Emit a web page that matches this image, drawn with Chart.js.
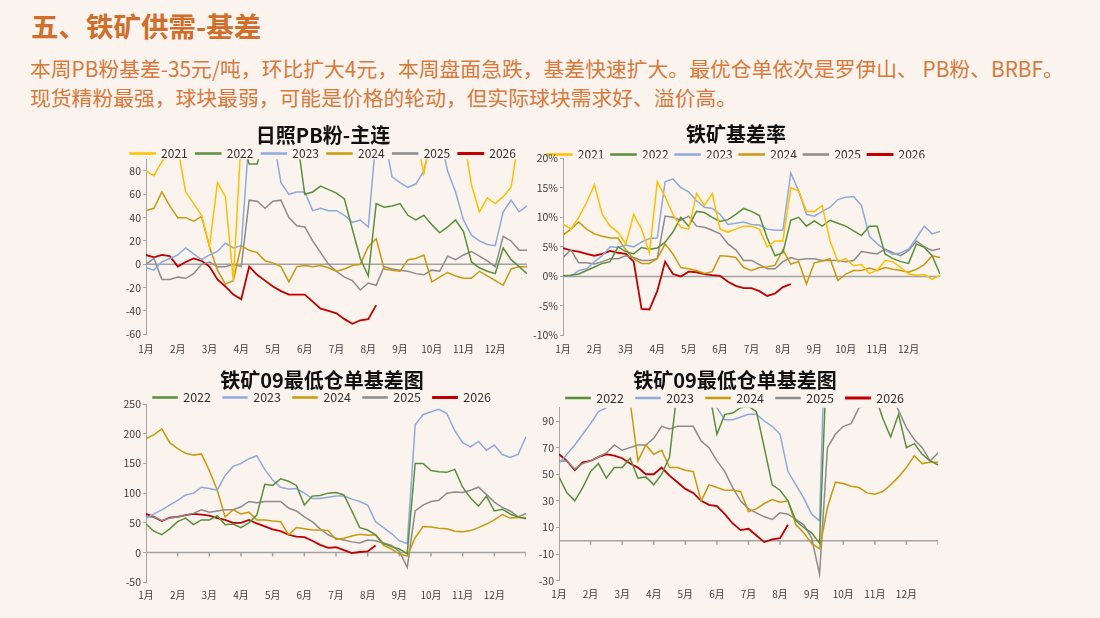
<!DOCTYPE html>
<html>
<head>
<meta charset="utf-8">
<script src="https://cdn.jsdelivr.net/npm/chart.js@4.4.1/dist/chart.umd.min.js"></script>
<style>
  html, body { margin:0; padding:0; }
  body { width:1100px; height:618px; background:#FAF3EE; position:relative; overflow:hidden;
         font-family:"Noto Sans CJK SC","Noto Sans",sans-serif; }
  #h1 { position:absolute; left:31px; top:8px; font-size:27.5px; line-height:34px; font-weight:700; color:#D06F2B; }
  #sub { position:absolute; left:30px; top:54px; font-size:20.8px; line-height:29px; color:#D9793A; white-space:nowrap; }
  canvas { position:absolute; }
</style>
</head>
<body>
<div id="h1">五、铁矿供需-基差</div>
<div id="sub">本周PB粉基差-35元/吨，环比扩大4元，本周盘面急跌，基差快速扩大。最优仓单依次是罗伊山、 PB粉、BRBF。<br>现货精粉最强，球块最弱，可能是价格的轮动，但实际球块需求好、溢价高。</div>
<canvas id="c1"></canvas>
<canvas id="c2"></canvas>
<canvas id="c3"></canvas>
<canvas id="c4"></canvas>
<script>
// ---------- shared axis data ----------
const monthLabels = ['1月','2月','3月','4月','5月','6月','7月','8月','9月','10月','11月','12月'];
const monthTickPos = [1,2,3,4,5,6,7,8,9,10,11,12];
const zeroTickPos = [2,3,4,5,6,7,8,9,10,11,12,13];
const xPos = [1,1.25,1.5,1.75,2,2.25,2.5,2.75,3,3.25,3.5,3.75,4,4.25,4.5,4.75,5,5.25,5.5,5.75,6,6.25,6.5,6.75,7,7.25,7.5,7.75,8,8.25,8.5,8.75,9,9.25,9.5,9.75,10,10.25,10.5,10.75,11,11.25,11.5,11.75,12,12.25,12.5,12.75,13];

const yearLabels = ['2021','2022','2023','2024','2025','2026'];
const yearColors = ['#FFC000','#5A8F3C','#8EAADC','#C99A0E','#8C8C8C','#C00000'];

// ---------- 日照PB粉-主连 (元/吨) ----------
const pbTicks = [-60,-40,-20,0,20,40,60,80];
const pb2021 = [80,76,88,95,100,62,52,42,15,70,58,-14,110, 110,110,110,110,110,110,110,110,110,110,110,110,110,110,110,110,110,110,110,110,110,110, 78, 110,110,110,110,110, 68,45,57,52,58,66,110,110];
const pb2022 = [110,110,110,110,110,110,110,110,110,110,110,110,110, 86,86, 110,110,110,110,110, 60,62,67,64,61,56,30,5,-10,52,49,50,52,42,38,42,34,27,32,38,28,2,-3,-6,-8,14,4,-2,-8];
const pb2023 = [-3,-5,2,5,8,14,9,4,8,11,18,14,16, 110,110,110,110, 70,60,62,62,46,48,46,46,42,36,38,32,110,110,75,70,66,69,80,110,110,80,62,38,25,20,17,16,45,55,45,50];
const pb2024 = [46,48,62,50,40,40,37,41,15,-5,-17,-14,16,12,10,3,1,-2,-15,-2,-1,-2,-1,-3,-6,-4,-1,0,15,22,-4,-5,-6,4,5,8,-15,-11,-7,-10,-12,-12,-6,-10,-14,-18,-4,-2,-2];
const pb2025 = [0,5,-13,-13,-11,-12,-8,0,2,-2,-2,0,-2, 55,54,48,54,55,40,33,32,20,10,0,-6,-11,-14,-22,-16,-18,-2,-4,-5,-6,-8,-9,-5,-6,7,4,8,11,7,3,-2,24,20,12,12];
const pb2026 = [8,6,8,7,-2,2,5,3,-2,-13,-19,-26,-30,-2,-9,-14,-19,-23,-26,-26,-26,-32,-38,-40,-42,-47,-51,-48,-47,-35];

// ---------- 铁矿基差率 (%) ----------
const rateTicks = [-10,-5,0,5,10,15,20];
const rate2021 = [8.9,8,10,12.5,15.5,10.5,8.5,7.5,5.5,10.5,8,4,16, 13.5,10.5,8.3,8,14,12,14,8,7.5,8,8.5,8.5, 8,5,6,6,15,14.5,11,11,12,6,2.5,3, 1.8,2,0.5,1,2.7,2.5,1.5,0.4,0.2,0.3,-0.5,0.2];
const rate2022 = [0.1,0.2,0.4,1,1.6,2.2,2.5,5,4.2,3.8,4.9,4.6,4.8, 5.8,7.5,10,8.5,11,10.8,10,9.3,9.6,10.5,11.5,11, 10.3,6.5,3.5,4,9.5,10,8.5,9.4,8.5,9.5,9,8.5, 7.7,6.9,8.5,8.5,3.8,3,2.5,2.2,5.5,4.9,3.5,0.4];
const rate2023 = [0.1,0,1,1.3,2.5,3.5,5,4.9,5.3,5,5.8,6.4,6.5, 16,16.5,15,14.3,12.8,11.7,11.5,10.5,8.8,9,9.2,8.8, 8.7,8,7.8,7.8,17.5,14.5,10.5,10.2,11,11.7,13,13.4, 13.5,12,6.8,5.5,4.5,3.7,4,4.6,6.5,8.5,7.2,7.6];
const rate2024 = [7,8,9.2,8,7.2,6.8,6.5,6.5,4.5,3,2.2,2.2,3, 5.5,3.8,1.5,1.3,1,0.5,0.8,3.5,3.4,3.2,1.5,1, 1.5,1.6,1.9,4.5,2.1,2.5,-1.3,2.3,2.6,3,-0.7,0.4, 1,1,1.4,1,1.5,1.2,1,0.7,1.2,2,3.5,3.2];
const rate2025 = [3.2,4.5,2.3,2.3,2.1,2.5,3,3,3.5,3.2,2.7,2.7,3, 10.2,10,9.5,10.2,8.5,8.3,7.8,7.2,5.5,4.5,2.7,2.7, 2,1.3,1.3,2.5,3.2,2.8,3,3,2.7,2.7,2.7,2.5, 2.7,4.2,4,3.8,4.6,4,3.5,4.4,6,5,4.4,4.7];
const rate2026 = [4.8,4.4,4.2,3.8,3.5,3.8,4.3,4,3.8,2.5,-5.5,-5.6,-2.5, 2.5,0.4,0,0.8,0.7,0.4,0.2,0.1,-0.9,-1.6,-2,-2, -2.5,-3.3,-2.9,-1.8,-1.3];

// ---------- 铁矿09最低仓单基差 (元/吨) ----------
const wrTicksWide = [-50,0,50,100,150,200,250];
const wrTicksZoom = [-30,-10,10,30,50,70,90];
const wr2022 = [48,36,30,40,52,58,47,55,55,62,47,48,42, 50,63,115,113,124,120,113,80,95,96,100,101, 97,70,42,38,30,15,10,6,-2,150,150,138, 136,135,140,110,92,78,95,70,73,65,60,57];
const wr2023 = [58,65,72,80,88,97,100,110,108,105,130,145,150, 158,163,140,122,110,107,108,100,91,91,93,95, 95,90,86,80,52,42,32,20,15,215,232,237, 241,234,205,185,178,187,172,181,165,160,165,195];
const wr2024 = [192,198,208,185,175,167,164,166,138,105,60,72,65, 68,55,55,53,52,30,42,40,38,38,37,22, 24,28,31,29,30,12,6,-2,-6,25,44,43, 41,40,36,35,37,42,48,55,64,58,59,59];
const wr2025 = [60,60,54,58,60,63,66,72,68,70,72,72,77, 86,84,86,86,86,75,70,60,52,40,30,24, 21,18,16,21,20,16,12,2,-25,70,80,86, 88,100,102,101,105,110,98,85,76,70,60,66];
const wr2026 = [65,60,53,59,60,63,65,64,62,58,55,50,50, 55,49,44,39,36,30,27,26,20,13,8,9, 4,-1,1,2,12];

// ---------- helpers ----------
const FONT = '"Noto Sans CJK SC","Noto Sans",sans-serif';

function series(label, color, arr, width) {
  return {
    label: label,
    data: arr.map((v, i) => ({x: xPos[i], y: v})),
    borderColor: color,
    backgroundColor: color,
    borderWidth: width || 1.5,
    pointRadius: 0,
    pointHoverRadius: 0,
    tension: 0,
    fill: false
  };
}

const zeroLinePlugin = {
  id: 'zeroLine',
  beforeDatasetsDraw(chart, args, opts) {
    const {ctx, chartArea, scales} = chart;
    const yy = scales.y.getPixelForValue(0);
    ctx.save();
    ctx.strokeStyle = opts.color || '#A0A0A0';
    ctx.lineWidth = opts.width || 1.5;
    ctx.beginPath();
    ctx.moveTo(chartArea.left, yy);
    ctx.lineTo(chartArea.right, yy);
    if (opts.ticks) {
      for (const v of zeroTickPos) {
        const xx = scales.x.getPixelForValue(v);
        ctx.moveTo(xx, yy);
        ctx.lineTo(xx, yy + 4);
      }
    }
    ctx.stroke();
    ctx.restore();
  }
};

function build(id, spec, title, datasets, yMin, yMax, yTicks, yFmt, zeroTicks) {
  const tf = 20, lh = tf * 1.2;
  const T = spec.titleCY - lh / 2;
  const legendTop = spec.legendCY - spec.legendPad - spec.legendFont / 2;
  const pb = legendTop - (T + lh);
  const maxH = spec.areaTop - legendTop;
  const H = Math.ceil(spec.areaBottom + 26 - T);
  const xAxisH = T + H - spec.areaBottom;
  const W = spec.areaRight - spec.left;
  const cv = document.getElementById(id);
  cv.style.left = spec.left + 'px';
  cv.style.top = T + 'px';
  cv.width = W; cv.height = H;
  cv.style.width = W + 'px'; cv.style.height = H + 'px';
  const yAxisW = spec.areaLeft - spec.left;

  return new Chart(cv, {
    type: 'line',
    data: { datasets: datasets },
    plugins: [zeroLinePlugin],
    options: {
      responsive: false,
      animation: false,
      layout: { padding: 0 },
      plugins: {
        zeroLine: { ticks: zeroTicks, color: '#A3A3A3', width: 1.5 },
        tooltip: { enabled: false },
        title: {
          display: true, text: title, color: '#111',
          font: { family: FONT, size: tf, weight: 'bold' },
          padding: { top: 0, bottom: pb }
        },
        legend: {
          display: true,
          maxHeight: maxH,
          labels: {
            boxWidth: spec.boxWidth, boxHeight: 1,
            padding: spec.legendPad,
            color: '#333',
            font: { family: FONT, size: spec.legendFont }
          }
        }
      },
      scales: {
        x: {
          type: 'linear', min: 1, max: 13,
          afterBuildTicks: s => { s.ticks = monthTickPos.map(v => ({value: v})); },
          afterFit: s => { s.height = xAxisH; },
          grid: { display: false, drawTicks: false },
          border: { display: false },
          ticks: {
            autoSkip: false, maxRotation: 0, padding: spec.labelPad,
            color: '#404040', font: { family: FONT, size: 10 },
            callback: v => monthLabels[v - 1]
          }
        },
        y: {
          type: 'linear', min: yMin, max: yMax,
          afterBuildTicks: s => { s.ticks = yTicks.map(v => ({value: v})); },
          afterFit: s => { s.width = yAxisW; },
          grid: { display: true, drawOnChartArea: false, drawTicks: true, tickLength: 3, color: '#A6A6A6' },
          border: { display: true, color: '#A6A6A6', width: 1 },
          ticks: {
            padding: 2, color: '#404040', font: { family: FONT, size: 10.5 },
            callback: yFmt
          }
        }
      }
    }
  });
}

// ---------- charts ----------
build('c1',
  { left: 119, areaLeft: 146, areaRight: 527, titleCY: 135, legendCY: 153.5, areaTop: 159.3, areaBottom: 334.3,
    labelPad: 9, legendFont: 12, legendPad: 8, boxWidth: 25 },
  '日照PB粉-主连',
  [series(yearLabels[0], yearColors[0], pb2021), series(yearLabels[1], yearColors[1], pb2022),
   series(yearLabels[2], yearColors[2], pb2023), series(yearLabels[3], yearColors[3], pb2024),
   series(yearLabels[4], yearColors[4], pb2025), series(yearLabels[5], yearColors[5], pb2026, 1.8)],
  -60, 90, pbTicks, v => String(v), false);

build('c2',
  { left: 532, areaLeft: 563, areaRight: 940, titleCY: 133.5, legendCY: 154, areaTop: 157.7, areaBottom: 335,
    labelPad: 8, legendFont: 12, legendPad: 6.5, boxWidth: 25 },
  '铁矿基差率',
  [series(yearLabels[0], yearColors[0], rate2021), series(yearLabels[1], yearColors[1], rate2022),
   series(yearLabels[2], yearColors[2], rate2023), series(yearLabels[3], yearColors[3], rate2024),
   series(yearLabels[4], yearColors[4], rate2025), series(yearLabels[5], yearColors[5], rate2026, 1.8)],
  -10, 20, rateTicks, v => v + '%', false);

build('c3',
  { left: 118, areaLeft: 146, areaRight: 526, titleCY: 380, legendCY: 397.5, areaTop: 404, areaBottom: 582.3,
    labelPad: 7, legendFont: 12.5, legendPad: 12, boxWidth: 24 },
  '铁矿09最低仓单基差图',
  [series(yearLabels[1], yearColors[1], wr2022), series(yearLabels[2], yearColors[2], wr2023),
   series(yearLabels[3], yearColors[3], wr2024), series(yearLabels[4], yearColors[4], wr2025),
   series(yearLabels[5], yearColors[5], wr2026, 1.8)],
  -50, 250, wrTicksWide, v => String(v), true);

build('c4',
  { left: 532, areaLeft: 559, areaRight: 938, titleCY: 380, legendCY: 398, areaTop: 407.7, areaBottom: 580.7,
    labelPad: 8, legendFont: 12.5, legendPad: 12, boxWidth: 24 },
  '铁矿09最低仓单基差图',
  [series(yearLabels[1], yearColors[1], wr2022), series(yearLabels[2], yearColors[2], wr2023),
   series(yearLabels[3], yearColors[3], wr2024), series(yearLabels[4], yearColors[4], wr2025),
   series(yearLabels[5], yearColors[5], wr2026, 1.8)],
  -30, 100, wrTicksZoom, v => String(v), true);
</script>
</body>
</html>
